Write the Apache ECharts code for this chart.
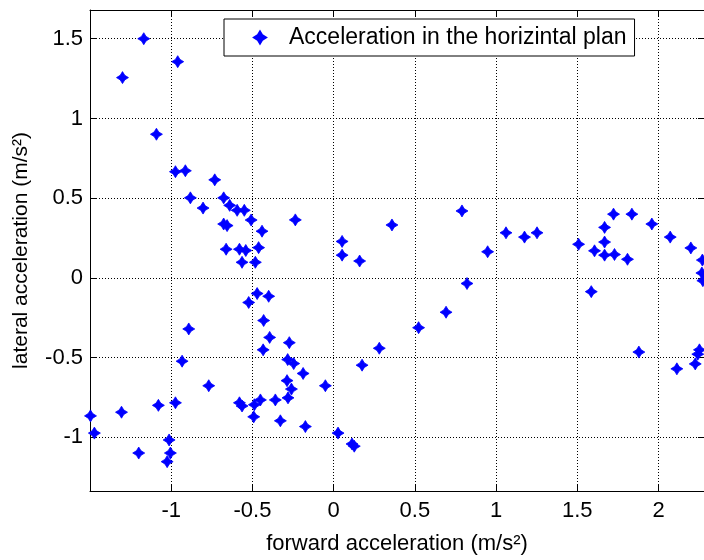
<!DOCTYPE html>
<html>
<head>
<meta charset="utf-8">
<script src="https://cdn.jsdelivr.net/npm/echarts@6/dist/echarts.min.js"></script>
<style>
  html, body { margin: 0; padding: 0; background: #fff; }
  #chart { width: 704px; height: 560px; }
</style>
</head>
<body>
<div id="chart"></div>
<script>
// forward acceleration (m/s²)
var forwardAcc = [
  -1.169, -0.960, -1.300, -1.091, -0.974, -0.913, -0.882, -0.804, -0.732, -0.677,
  -0.640, -0.594, -0.550, -0.508, -0.677, -0.656, -0.441, -0.236, -0.662, -0.580,
  -0.541, -0.462, -0.564, -0.482, 0.052, 0.052, 0.160, 0.359,
  -0.471, -0.400, -0.523, -0.431, -0.892, -0.394, -0.273, 0.281, -0.434, -0.933,
  -0.283, -0.246, 0.175, -0.188, -0.287, -0.769, -0.051, -0.260, -0.281, -0.451,
  -0.359, -0.580, -0.564, -0.488, -0.974, -1.079, -1.497, -1.306, -0.492, -0.328,
  -0.174, -1.473, 0.027, -1.013, 0.113, 0.127, -1.200, -1.005, -1.025,
  0.790, 0.948, 1.061, 1.175, 1.252, 1.508, 1.606, 1.668, 1.723, 1.668,
  1.668, 1.729, 1.836, 1.809, 1.959, 2.072, 2.199, 2.270, 2.267, 2.273,
  0.821, 0.692, 0.523, 1.586, 1.879, 2.113, 2.226, 2.242, 2.252
];
// lateral acceleration (m/s²)
var lateralAcc = [
  1.500, 1.356, 1.256, 0.901, 0.666, 0.672, 0.502, 0.438, 0.615, 0.502,
  0.455, 0.424, 0.424, 0.363, 0.338, 0.328, 0.293, 0.364, 0.180, 0.180,
  0.172, 0.190, 0.098, 0.098, 0.229, 0.143, 0.106, 0.332,
  -0.098, -0.115, -0.154, -0.267, -0.320, -0.373, -0.406, -0.441, -0.451, -0.522,
  -0.512, -0.537, -0.547, -0.599, -0.644, -0.676, -0.676, -0.697, -0.752, -0.765,
  -0.765, -0.783, -0.803, -0.795, -0.783, -0.799, -0.865, -0.842, -0.871, -0.896,
  -0.932, -0.973, -0.973, -1.016, -1.041, -1.055, -1.098, -1.098, -1.152,
  0.420, 0.164, 0.283, 0.256, 0.283, 0.211, 0.170, 0.317, 0.400, 0.225,
  0.143, 0.147, 0.400, 0.117, 0.338, 0.256, 0.188, 0.112, 0.031, -0.017,
  -0.035, -0.215, -0.312, -0.086, -0.465, -0.570, -0.539, -0.478, -0.451
];
// axis limits
var xLimits = [-1.5, 2.28];
var yLimits = [-1.336, 1.68];
var legendName = 'Acceleration in the horizintal plan';

var points = [];
for (var i = 0; i < forwardAcc.length; i++) {
  points.push([forwardAcc[i], lateralAcc[i]]);
}

// four point star marker
var star = 'path://M0,-10 L3.8,-3.8 L10,0 L3.8,3.8 L0,10 L-3.8,3.8 L-10,0 L-3.8,-3.8 Z';
var font = 'Liberation Sans';
var gridLine = { show: true, lineStyle: { color: '#000', width: 1, type: [1, 2] } };
var axisLine = { onZero: false, lineStyle: { color: '#000', width: 1 } };
var axisTick = { inside: true, length: 6, lineStyle: { color: '#000' } };

var myChart = echarts.init(document.getElementById('chart'), null, { renderer: 'canvas' });
myChart.setOption({
  animation: false,
  backgroundColor: '#fff',
  textStyle: { fontFamily: font },
  grid: { left: 90, top: 10, right: 0, bottom: 59.3 },
  legend: {
    left: 224,
    top: 19,
    data: [{ name: legendName, icon: star }],
    itemWidth: 12,
    itemHeight: 12,
    padding: [7, 8, 7, 29],
    borderColor: '#000',
    borderWidth: 1,
    backgroundColor: '#fff',
    textStyle: { fontFamily: font, fontSize: 23, color: '#000', padding: [0, 0, 0, 18] }
  },
  xAxis: [
    {
      type: 'value',
      min: xLimits[0], max: xLimits[1], interval: 0.5,
      position: 'bottom',
      name: 'forward acceleration (m/s²)',
      nameLocation: 'middle',
      nameGap: 42,
      nameTextStyle: { fontFamily: font, fontSize: 22, color: '#000' },
      axisLine: axisLine,
      axisTick: axisTick,
      axisLabel: { fontFamily: font, fontSize: 22, color: '#000', margin: 9, showMinLabel: false, showMaxLabel: false },
      splitLine: gridLine
    },
    {
      type: 'value',
      min: xLimits[0], max: xLimits[1], interval: 0.5,
      position: 'top',
      axisLine: axisLine,
      axisTick: axisTick,
      axisLabel: { show: false },
      splitLine: { show: false }
    }
  ],
  yAxis: [
    {
      type: 'value',
      min: yLimits[0], max: yLimits[1], splitNumber: 6,
      position: 'left',
      name: 'lateral acceleration (m/s²)',
      nameLocation: 'middle',
      nameGap: 58,
      nameTextStyle: { fontFamily: font, fontSize: 21, color: '#000' },
      axisLine: axisLine,
      axisTick: axisTick,
      axisLabel: { fontFamily: font, fontSize: 22, color: '#000', margin: 7, showMinLabel: false, showMaxLabel: false },
      splitLine: gridLine
    },
    {
      type: 'value',
      min: yLimits[0], max: yLimits[1], splitNumber: 6,
      position: 'right',
      axisLine: axisLine,
      axisTick: axisTick,
      axisLabel: { show: false },
      splitLine: { show: false }
    }
  ],
  series: [
    {
      name: legendName,
      type: 'scatter',
      symbol: star,
      symbolSize: 12,
      itemStyle: { color: '#0000ff', opacity: 1, borderColor: '#0000ff', borderWidth: 0.8 },
      data: points
    }
  ]
});
</script>
</body>
</html>
